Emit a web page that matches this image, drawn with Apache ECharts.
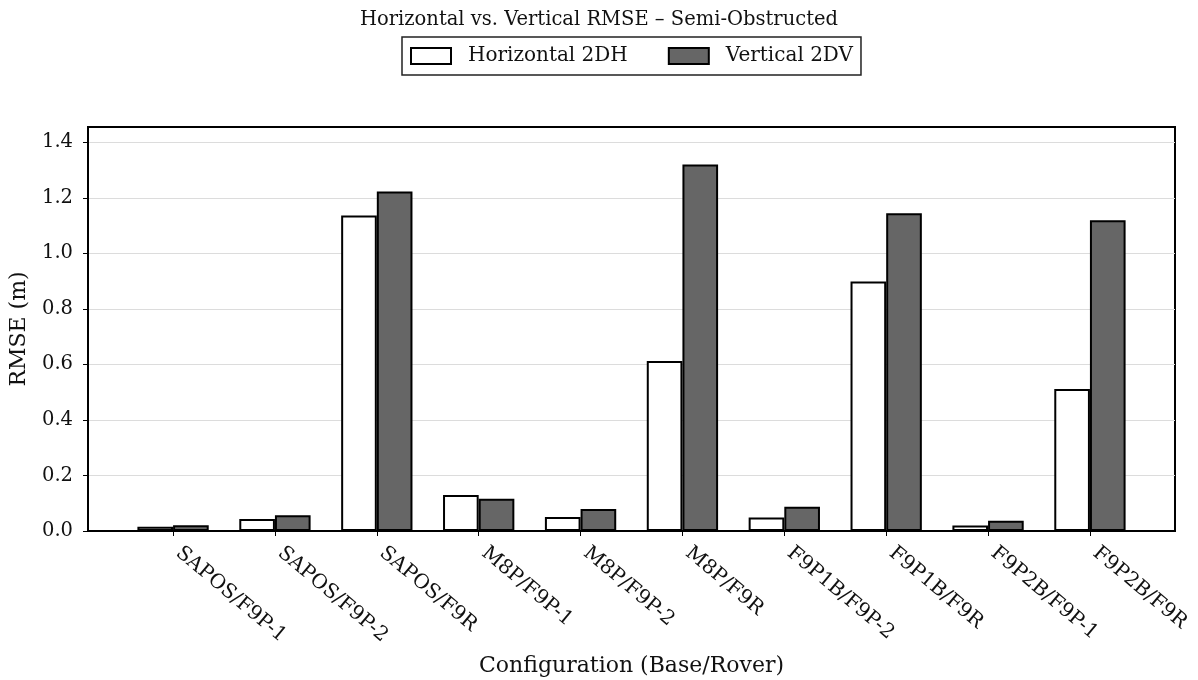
<!DOCTYPE html>
<html>
<head>
<meta charset="utf-8">
<script src="https://cdn.jsdelivr.net/npm/echarts@6/dist/echarts.min.js"></script>
<style>html,body{margin:0;padding:0;background:#fff}#c{width:1198px;height:680px}</style>
</head>
<body>
<div id="c"></div>
<script>
const categories = ['SAPOS/F9P-1','SAPOS/F9P-2','SAPOS/F9R','M8P/F9P-1','M8P/F9P-2','M8P/F9R','F9P1B/F9P-2','F9P1B/F9R','F9P2B/F9P-1','F9P2B/F9R'];
const horizontal2DH = [0.015, 0.043, 1.136, 0.130, 0.050, 0.612, 0.049, 0.899, 0.020, 0.511];
const vertical2DV   = [0.021, 0.057, 1.223, 0.116, 0.079, 1.320, 0.087, 1.144, 0.037, 1.119];
const yTicks = [0, 0.2, 0.4, 0.6, 0.8, 1.0, 1.2, 1.4];

const FONT = 'DejaVu Serif';
const barW = 0.35;
const xMin = -barW - 0.05 * (categories.length - 1 + 2 * barW);
const xMax = categories.length - 1 + barW + 0.05 * (categories.length - 1 + 2 * barW);
const gridLeft = 88, gridRight = 23;
const plotW = 1198 - gridLeft - gridRight;
const barPx = plotW / (xMax - xMin) * barW;

const chart = echarts.init(document.getElementById('c'));
chart.setOption({
  animation: false,
  backgroundColor: '#fff',
  title: {
    text: 'Horizontal vs. Vertical RMSE \u2013 Semi-Obstructed',
    left: 'center', top: 5,
    textStyle: {fontFamily: FONT, fontSize: 19.5, fontWeight: 'normal', color: '#111'}
  },
  legend: {
    top: 37, left: 402,
    data: ['Horizontal 2DH', 'Vertical 2DV'],
    icon: 'rect',
    itemWidth: 40, itemHeight: 16, itemGap: 40,
    padding: [9, 8, 9, 8],
    borderColor: '#222', borderWidth: 1.5,
    textStyle: {fontFamily: FONT, fontSize: 20, color: '#111', padding: [0, 0, 0, 12]}
  },
  grid: {left: gridLeft, right: gridRight, top: 127, bottom: 149, show: true, borderColor: '#000', borderWidth: 2, containLabel: false, outerBoundsMode: 'none'},
  xAxis: {
    type: 'value', min: xMin, max: xMax,
    splitLine: {show: false},
    axisLine: {show: true, onZero: false, lineStyle: {color: '#000', width: 2}},
    axisTick: {show: true, customValues: categories.map((c, i) => i), length: 5, lineStyle: {color: '#000', width: 1}},
    axisLabel: {
      customValues: categories.map((c, i) => i),
      formatter: v => categories[Math.round(v)] || '',
      rotate: -40, margin: 15, padding: [0, 0, 0, 7],
      fontFamily: FONT, fontSize: 20, color: '#111'
    },
    name: 'Configuration (Base/Rover)', nameLocation: 'middle', nameGap: 124, nameMoveOverlap: false,
    nameTextStyle: {fontFamily: FONT, fontSize: 22, color: '#111'}
  },
  yAxis: {
    type: 'value', min: 0, max: 1.455,
    axisLine: {show: true, onZero: false, lineStyle: {color: '#000', width: 2}},
    axisTick: {show: true, customValues: yTicks, length: 5, lineStyle: {color: '#000', width: 1}},
    axisLabel: {customValues: yTicks, formatter: v => v.toFixed(1), fontFamily: FONT, fontSize: 19.5, color: '#111', margin: 15},
    splitLine: {show: true, lineStyle: {color: '#dcdcdc', width: 1.2}},
    name: 'RMSE (m)', nameLocation: 'middle', nameGap: 58, nameMoveOverlap: false,
    nameTextStyle: {fontFamily: FONT, fontSize: 22, color: '#111'}
  },
  series: [
    {
      name: 'Horizontal 2DH', type: 'bar', barWidth: barPx, barGap: '-100%',
      itemStyle: {color: '#ffffff', borderColor: '#000', borderWidth: 2},
      data: horizontal2DH.map((v, i) => [i - barW / 2, v])
    },
    {
      name: 'Vertical 2DV', type: 'bar', barWidth: barPx, barGap: '-100%',
      itemStyle: {color: '#666666', borderColor: '#000', borderWidth: 2},
      data: vertical2DV.map((v, i) => [i + barW / 2, v])
    }
  ]
});
</script>
</body>
</html>
